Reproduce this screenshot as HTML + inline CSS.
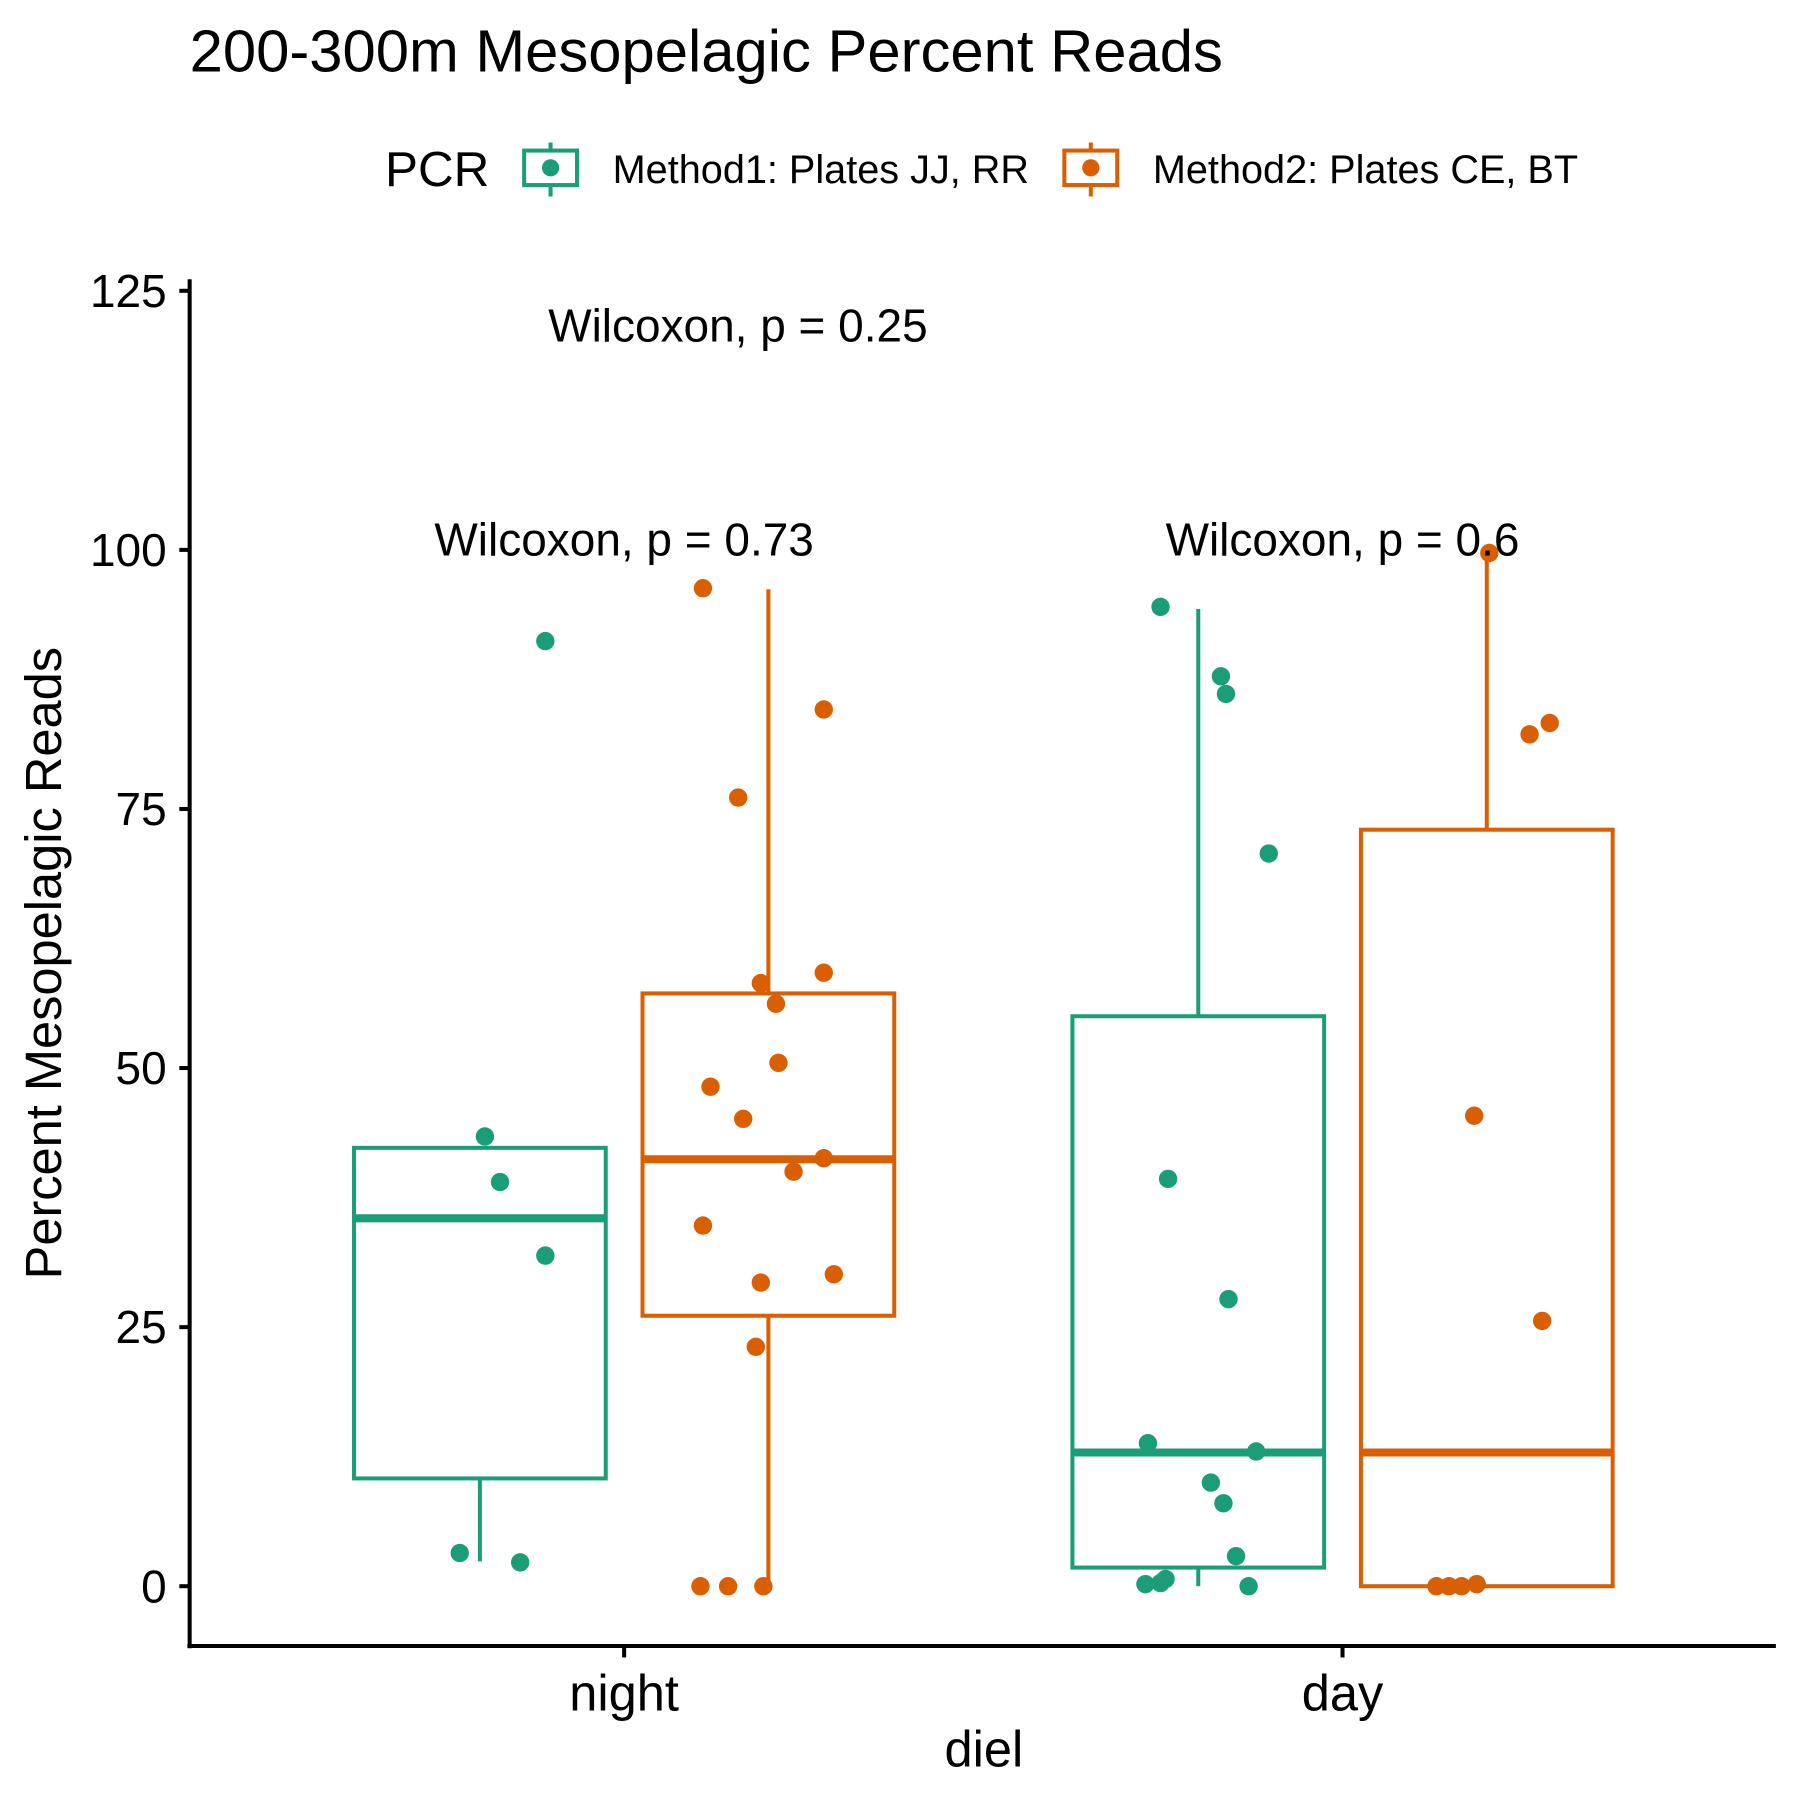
<!DOCTYPE html>
<html><head><meta charset="utf-8"><style>html,body{margin:0;padding:0;background:#fff}svg{display:block}text{font-family:"Liberation Sans",Arial,sans-serif}</style></head>
<body>
<svg id="chart" width="1800" height="1800" viewBox="0 0 1566 1566" xmlns="http://www.w3.org/2000/svg">
<text x="165" y="62" font-size="52">200-300m Mesopelagic Percent Reads</text>
<g>
<text x="335" y="162" font-size="43">PCR</text>
<g stroke="#1B9E77" stroke-width="3.5" fill="none"><line x1="479" y1="124" x2="479" y2="171"/><rect x="456" y="131" width="46" height="30" fill="#fff"/><circle cx="479" cy="146" r="7.5" fill="#1B9E77" stroke="none"/></g>
<text x="533" y="159" font-size="34.5">Method1: Plates JJ, RR</text>
<g stroke="#D95F02" stroke-width="3.5" fill="none"><line x1="949" y1="124" x2="949" y2="171"/><rect x="926" y="131" width="46" height="30" fill="#fff"/><circle cx="949" cy="146" r="7.5" fill="#D95F02" stroke="none"/></g>
<text x="1003" y="159" font-size="34.5">Method2: Plates CE, BT</text>
</g>
<g id="plot"></g>
</svg>
<script>
const categories = ["night","day"];
const groups = ["Method1","Method2"];
const colors = ["#1B9E77","#D95F02"];
// box stats: [lowWhisker, q1, median, q3, highWhisker]
const boxNightM1 = [2.4, 10.4, 35.5, 42.3, 42.3];
const boxNightM2 = [0, 26.1, 41.2, 57.2, 96.2];
const boxDayM1 = [0, 1.8, 12.9, 55.0, 94.3];
const boxDayM2 = [0, 0, 12.9, 73.0, 99.7];
const ptsNightM1 = [43.4, 39.0, 31.9, 3.2, 2.3, 91.2];
const jitNightM1 = [0.02, 0.08, 0.26, -0.08, 0.16, 0.26];
const ptsNightM2 = [96.3,84.6,76.1,58.2,59.2,56.2,50.5,48.2,45.1,41.3,40.0,34.8,30.1,29.3,23.1,0,0,0];
const jitNightM2 = [-0.26,0.22,-0.12,-0.03,0.22,0.03,0.04,-0.23,-0.10,0.22,0.10,-0.26,0.26,-0.03,-0.05,-0.27,-0.16,-0.02];
const ptsDayM1 = [94.5,87.8,86.1,70.7,39.3,27.7,13.8,13.0,10.0,8.0,2.9,0.2,0.3,0.7,0];
const jitDayM1 = [-0.15,0.09,0.11,0.28,-0.12,0.12,-0.20,0.23,0.05,0.10,0.15,-0.21,-0.15,-0.13,0.20];
const ptsDayM2 = [99.7,83.3,82.2,45.4,25.6,0,0,0,0.2];
const jitDayM2 = [0.01,0.25,0.17,-0.05,0.22,-0.20,-0.15,-0.10,-0.04];
const yTicks = [0,25,50,75,100,125];
const pLabels = ["Wilcoxon, p = 0.73","Wilcoxon, p = 0.6"];
const pTop = "Wilcoxon, p = 0.25";

const NS="http://www.w3.org/2000/svg";
const plot=document.getElementById('plot');
const y0px=1380, unit=9.016;
function yS(v){return y0px - v*unit;}
const catX=[543,1168];
function xS(ci){return catX[ci];}
const dodge=125.5, bw=219;
function mk(tag,attrs,parent){const e=document.createElementNS(NS,tag);for(const k in attrs)e.setAttribute(k,attrs[k]);(parent||plot).appendChild(e);return e;}

const ax=mk('line',{x1:165,y1:243,x2:165,y2:1434,stroke:'#000','stroke-width':3.5});


const axx=mk('line',{x1:163,y1:1432,x2:1545,y2:1432,stroke:'#000','stroke-width':3.5});


yTicks.forEach(t=>{
  const l=mk('line',{x1:156,y1:yS(t),x2:165,y2:yS(t),stroke:'#000','stroke-width':3.5});
  
  
  const tx=mk('text',{x:145,y:yS(t)+14,'font-size':40,'text-anchor':'end'});
  tx.textContent=t;
  
  
});
categories.forEach((c,i)=>{
  const l=mk('line',{x1:xS(i),y1:1432,x2:xS(i),y2:1442,stroke:'#000','stroke-width':3.5});
  
  
  const tx=mk('text',{x:xS(i),y:1488,'font-size':44,'text-anchor':'middle'});
  tx.textContent=c;
  
  
});
const xt=mk('text',{x:856,y:1537,'font-size':44,'text-anchor':'middle'});
xt.textContent='diel';


const yt=mk('text',{x:0,y:0,'font-size':44,'text-anchor':'middle',transform:'translate(53,838) rotate(-90)'});
yt.textContent='Percent Mesopelagic Reads';



const boxes=[[boxNightM1,boxNightM2],[boxDayM1,boxDayM2]];
const pts=[[ptsNightM1,ptsNightM2],[ptsDayM1,ptsDayM2]];
const jits=[[jitNightM1,jitNightM2],[jitDayM1,jitDayM2]];
categories.forEach((c,ci)=>{
  groups.forEach((g,gi)=>{
    const cx=xS(ci)+(gi===0?-dodge:dodge);
    const b=boxes[ci][gi], col=colors[gi];
    const grp=mk('g',{});
    
    
    mk('line',{x1:cx,y1:yS(b[0]),x2:cx,y2:yS(b[1]),stroke:col,'stroke-width':3.5},grp);
    mk('line',{x1:cx,y1:yS(b[3]),x2:cx,y2:yS(b[4]),stroke:col,'stroke-width':3.5},grp);
    mk('rect',{x:cx-bw/2,y:yS(b[3]),width:bw,height:yS(b[1])-yS(b[3]),fill:'none',stroke:col,'stroke-width':3.5},grp);
    mk('line',{x1:cx-bw/2,y1:yS(b[2]),x2:cx+bw/2,y2:yS(b[2]),stroke:col,'stroke-width':7},grp);
  });
});
categories.forEach((c,ci)=>{
  groups.forEach((g,gi)=>{
    const cx=xS(ci)+(gi===0?-dodge:dodge);
    pts[ci][gi].forEach((v,k)=>{
      const p=mk('circle',{cx:cx+jits[ci][gi][k]*bw,cy:yS(v),r:8,fill:colors[gi]});
      
      
    });
  });
  const t=mk('text',{x:xS(ci),y:yS(100)+5,'font-size':40,'text-anchor':'middle'});
  t.textContent=pLabels[ci];
  
  
});
const tt=mk('text',{x:642,y:yS(120)-1,'font-size':40,'text-anchor':'middle'});
tt.textContent=pTop;


</script>
</body></html>
